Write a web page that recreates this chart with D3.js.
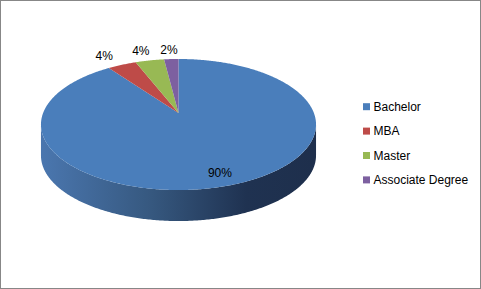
<!DOCTYPE html>
<html lang="en">
<head>
  <meta charset="UTF-8" />
  <title>Degree pie</title>
  <style>
    html, body { margin: 0; padding: 0; background: #fff; }
    svg { display: block; font-family: "Liberation Sans", Arial, sans-serif; }
  </style>
</head>
<body>
  <svg width="481" height="289"></svg>
  <script src="https://d3js.org/d3.v7.min.js"></script>
  <script>
    const categories = ['Bachelor', 'MBA', 'Master', 'Associate Degree'];
    const values = [90, 4, 4, 2];
    const colors = ['#4a7ebb', '#be4b48', '#98b954', '#7d60a0'];

    const svg = d3.select("svg");
    const width = 481, height = 289;

    // frame
    svg.append("rect")
      .attr("x", 0.5).attr("y", 0.5)
      .attr("width", width - 1).attr("height", height - 1)
      .attr("fill", "#fff").attr("stroke", "#878787");

    // tilted pie with a bit of perspective
    const cx = 178.5, cy = 113, A = 135.4, B = 63.5, k = 0.1756, depth = 31;
    function proj(theta, t = 1, dy = 0, tx = t) {
      const s = 1 / (1 + k * t * Math.cos(theta));
      return [cx + A * tx * Math.sin(theta) * s, cy - B * t * Math.cos(theta) * s + dy];
    }
    function arcPts(a0, a1, dy) {
      const n = Math.max(2, Math.ceil((a1 - a0) / 0.01));
      return d3.range(n + 1).map(i => proj(a0 + (a1 - a0) * i / n, 1, dy));
    }

    const pie = d3.pie().sort(null).startAngle(0).endAngle(2 * Math.PI);
    const arcs = pie(values);

    const defs = svg.append("defs");
    const grad = defs.append("linearGradient")
      .attr("id", "side").attr("gradientUnits", "userSpaceOnUse")
      .attr("x1", cx - A).attr("x2", cx + A).attr("y1", 0).attr("y2", 0);
    [[0, '#4a76ae'], [0.4, '#36587f'], [0.75, '#1f3251'], [1, '#1e2f4c']].forEach(([o, c]) =>
      grad.append("stop").attr("offset", o).attr("stop-color", c));

    // visible side: from the left-most to right-most silhouette points (front half)
    const sideStart = Math.acos(-k), sideEnd = 2 * Math.PI - Math.acos(-k);
    const line = d3.line();
    arcs.forEach((d, i) => {
      const a0 = Math.max(d.startAngle, sideStart), a1 = Math.min(d.endAngle, sideEnd);
      if (a1 <= a0) return;
      const top = arcPts(a0, a1, 0);
      const bot = arcPts(a0, a1, depth).reverse();
      svg.append("path")
        .attr("d", line(top.concat(bot)) + "Z")
        .attr("fill", i === 0 ? "url(#side)" : d3.color(colors[i]).darker(1.2));
    });

    // top face slices
    svg.append("g").selectAll("path")
      .data(arcs)
      .join("path")
      .attr("d", d => line([[cx, cy]].concat(arcPts(d.startAngle, d.endAngle, 0))) + "Z")
      .attr("fill", (d, i) => colors[i]);

    // labels
    const total = d3.sum(values);
    svg.append("g").selectAll("text")
      .data(arcs)
      .join("text")
      .each(function (d) {
        const mid = (d.startAngle + d.endAngle) / 2;
        const big = (d.value / total) > 0.2;
        const [x, y] = big ? proj(mid, 0.85) : proj(mid, 1.21, 0, 1.35);
        d3.select(this).attr("x", x).attr("y", y);
      })
      .attr("text-anchor", "middle")
      .attr("dominant-baseline", "central")
      .attr("font-size", 12)
      .attr("fill", "#000")
      .text(d => Math.round(d.value / total * 100) + "%");

    // legend
    const legend = svg.append("g").selectAll("g")
      .data(categories)
      .join("g")
      .attr("transform", (d, i) => `translate(363, ${106.7 + i * 24.4})`);
    legend.append("rect")
      .attr("x", 0).attr("y", -3.5).attr("width", 7).attr("height", 7)
      .attr("fill", (d, i) => colors[i]);
    legend.append("text")
      .attr("x", 10.5).attr("y", 0)
      .attr("dominant-baseline", "central")
      .attr("font-size", 12)
      .attr("fill", "#000")
      .text(d => d);
  </script>
</body>
</html>
